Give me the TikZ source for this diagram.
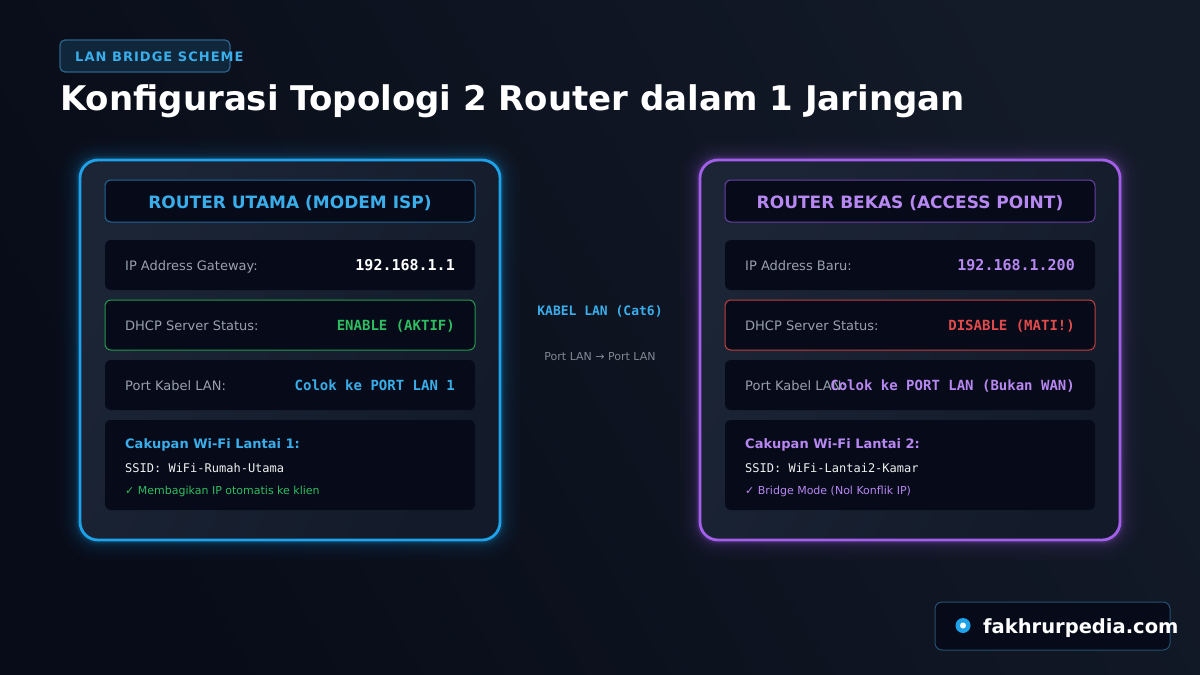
\documentclass[tikz,border=0pt]{standalone}
\usepackage{fontspec}
\setmainfont{DejaVu Sans}
\newfontfamily\monof{DejaVu Sans Mono}
\newcommand\fsz[1]{\fontsize{#1}{#1}\selectfont}
\usetikzlibrary{shadings}
\definecolor{bgA}{HTML}{080C18}
\definecolor{bgB}{HTML}{131A28}
\definecolor{cblue}{HTML}{3AAEEA}
\definecolor{cbord}{HTML}{1EA2EA}
\definecolor{cpurp}{HTML}{B787F2}
\definecolor{cpbord}{HTML}{A35FEA}
\definecolor{cgreen}{HTML}{2EBE60}
\definecolor{cred}{HTML}{E24B4B}
\definecolor{rowfill}{HTML}{060A19}
\definecolor{panA}{HTML}{1C2536}
\definecolor{panB}{HTML}{131B2A}
\definecolor{cgray}{HTML}{98A1AE}
\definecolor{badgefill}{HTML}{10263A}
\definecolor{badgebord}{HTML}{2C6389}
\definecolor{hbblue}{HTML}{1F6796}
\definecolor{hbpurp}{HTML}{6A3FA8}
\definecolor{footbord}{HTML}{24506F}
\tikzset{
  rowbox/.style={rounded corners=6pt, fill=rowfill, minimum width=370pt, inner sep=0pt},
  lbl/.style={anchor=base west, inner sep=0pt, text=cgray, font=\fsz{13}},
  val/.style={anchor=base east, inner sep=0pt, font=\monof\bfseries\fsz{14}},
  hdr/.style={anchor=base, inner sep=0pt, font=\bfseries\fsz{17}},
  txt/.style={anchor=base west, inner sep=0pt},
}
\begin{document}
\begin{tikzpicture}[x=1pt,y=-1pt]
\useasboundingbox (0,0) rectangle (1200,675);
\shade[left color=bgA, right color=bgB, shading angle=120] (0,0) rectangle (1200,675);

% badge
\node[draw=badgebord, line width=1.2pt, fill=badgefill, rounded corners=5pt, minimum width=170pt, minimum height=32pt, inner sep=0pt] (badge) at (145,56) {};
\node[txt, text=cblue, font=\bfseries\fsz{13}\addfontfeature{LetterSpace=8}] (badget) at (75,61) {LAN BRIDGE SCHEME};
% title
\node[txt, text=white, font=\bfseries\fsz{34}] (title) at (60,110) {Konfigurasi Topologi 2 Router dalam 1 Jaringan};

% ---------- left panel ----------
\foreach \w/\o in {40/0.015,32/0.02,26/0.025,20/0.03,15/0.04,11/0.05,8/0.07,6/0.09} {
  \draw[cbord, line width=\w pt, opacity=\o, rounded corners=18pt] (80,160) rectangle (500,540);
}
\shade[left color=panA, right color=panB, shading angle=60, rounded corners=18pt] (80,160) rectangle (500,540);
\node[draw=cbord, line width=2.8pt, rounded corners=18pt, minimum width=420pt, minimum height=380pt, inner sep=0pt] (panelL) at (290,350) {};

\node[rowbox, draw=hbblue, line width=1pt, minimum height=42pt] (hL) at (290,201) {};
\node[hdr, text=cblue] (hLt) at (290,208) {ROUTER UTAMA (MODEM ISP)};

\node[rowbox, minimum height=50pt] (r1L) at (290,265) {};
\node[lbl] (r1La) at (125,270) {IP Address Gateway:};
\node[val, text=white, font=\monof\bfseries\fsz{15}] (r1Lb) at (455,270.5) {192.168.1.1};

\node[rowbox, draw=cgreen!80!black, line width=1pt, minimum height=50pt] (r2L) at (290,325) {};
\node[lbl] (r2La) at (125,330) {DHCP Server Status:};
\node[val, text=cgreen] (r2Lb) at (455,330) {ENABLE (AKTIF)};

\node[rowbox, minimum height=50pt] (r3L) at (290,385) {};
\node[lbl] (r3La) at (125,390) {Port Kabel LAN:};
\node[val, text=cblue] (r3Lb) at (455,390) {Colok ke PORT LAN 1};

\node[rowbox, minimum height=90pt] (r4L) at (290,465) {};
\node[txt, text=cblue, font=\bfseries\fsz{13}] (r4La) at (125,448) {Cakupan Wi-Fi Lantai 1:};
\node[txt, text=white!88!gray, font=\monof\fsz{12}] (r4Lb) at (125,472) {SSID: WiFi-Rumah-Utama};
\node[txt, text=cgreen, font=\fsz{11}] (r4Lc) at (125,494) {✓ Membagikan IP otomatis ke klien};

% ---------- right panel ----------
\foreach \w/\o in {40/0.015,32/0.02,26/0.025,20/0.03,15/0.04,11/0.05,8/0.07,6/0.09} {
  \draw[cpbord, line width=\w pt, opacity=\o, rounded corners=18pt] (700,160) rectangle (1120,540);
}
\shade[left color=panA, right color=panB, shading angle=60, rounded corners=18pt] (700,160) rectangle (1120,540);
\node[draw=cpbord, line width=2.8pt, rounded corners=18pt, minimum width=420pt, minimum height=380pt, inner sep=0pt] (panelR) at (910,350) {};

\node[rowbox, draw=hbpurp, line width=1pt, minimum height=42pt] (hR) at (910,201) {};
\node[hdr, text=cpurp] (hRt) at (910,208) {ROUTER BEKAS (ACCESS POINT)};

\node[rowbox, minimum height=50pt] (r1R) at (910,265) {};
\node[lbl] (r1Ra) at (745,270) {IP Address Baru:};
\node[val, text=cpurp, font=\monof\bfseries\fsz{15}] (r1Rb) at (1075,270.5) {192.168.1.200};

\node[rowbox, draw=cred!85!black, line width=1pt, minimum height=50pt] (r2R) at (910,325) {};
\node[lbl] (r2Ra) at (745,330) {DHCP Server Status:};
\node[val, text=cred] (r2Rb) at (1075,330) {DISABLE (MATI!)};

\node[rowbox, minimum height=50pt] (r3R) at (910,385) {};
\node[lbl] (r3Ra) at (745,390) {Port Kabel LAN:};
\node[val, text=cpurp] (r3Rb) at (1075,390) {Colok ke PORT LAN (Bukan WAN)};

\node[rowbox, minimum height=90pt] (r4R) at (910,465) {};
\node[txt, text=cpurp, font=\bfseries\fsz{13}] (r4Ra) at (745,448) {Cakupan Wi-Fi Lantai 2:};
\node[txt, text=white!88!gray, font=\monof\fsz{12}] (r4Rb) at (745,472) {SSID: WiFi-Lantai2-Kamar};
\node[txt, text=cpurp, font=\fsz{11}] (r4Rc) at (745,494) {✓ Bridge Mode (Nol Konflik IP)};

% ---------- middle ----------
\node[anchor=base, inner sep=0pt, text=cblue, font=\monof\bfseries\fsz{13}] (cable) at (600,315) {KABEL LAN (Cat6)};
\node[anchor=base, inner sep=0pt, text=cgray!85!black, font=\fsz{11}] (cable2) at (600,360) {Port LAN → Port LAN};

% ---------- footer ----------
\node[draw=footbord, line width=1pt, fill=rowfill, rounded corners=7pt, minimum width=235pt, minimum height=48pt, inner sep=0pt] (foot) at (1052.5,626) {};
\fill[cbord] (963,625.5) circle (7.5pt);
\fill[white] (963,625.5) circle (3pt);
\node[txt, text=white, font=\bfseries\fsz{19.5}] (foott) at (983,633) {fakhrurpedia.com};
\end{tikzpicture}
\end{document}
